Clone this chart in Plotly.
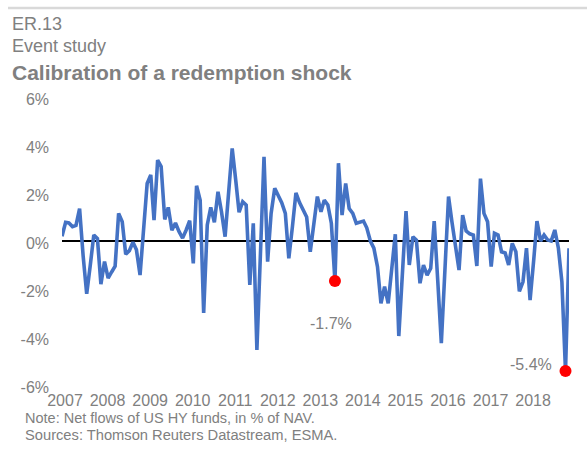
import pandas as pd
import plotly.graph_objects as go

# ---- data ----
net_flows = [
    0.2, 0.78, 0.75, 0.6, 0.65, 1.35, -0.6, -2.2, -1.0, 0.25, 0.1, -1.8,
    -0.86, -1.55, -1.3, -1.05, 1.15, 0.8, -0.55, -0.4, -0.05, -0.37, -1.42, 0.5,
    2.4, 2.75, 0.87, 3.37, 3.1, 0.9, 1.4, 0.45, 0.75, 0.4, 0.12, 0.45,
    0.85, -0.93, 2.3, 1.7, -3.0, 0.67, 1.4, 0.78, 2.05, 1.22, 0.18, 2.0,
    3.86, 2.5, 1.2, 1.64, 1.5, -1.83, 0.74, -4.54, -0.5, 3.51, -0.86, 1.15,
    2.2, 1.9, 1.6, 1.15, -0.72, 0.6, 2.0, 1.6, 1.3, 1.0, -0.45, 0.7,
    1.85, 1.22, 1.7, 1.5, 0.74, -1.67, 3.24, 1.08, 2.4, 1.35, 1.15, 0.74,
    0.8, 0.83, 0.55, 0.0, -0.3, -1.07, -2.6, -1.9, -2.6, -1.2, 0.28, -3.96,
    -1.4, 1.25, -1.0, 0.18, 0.04, -1.76, -1.0, -1.42, -1.14, 0.83, -1.7, -4.26,
    -1.2, 1.85, 0.8, -0.2, -1.21, 1.08, 0.42, 0.3, 0.25, -1.04, 2.6, 1.15,
    0.8, -1.07, 0.32, 0.25, -0.45, -0.5, -1.0, -0.1, -0.45, -2.1, -1.7, -0.3,
    -2.46, -0.8, 0.83, 0.0, 0.25, 0.04, 0.0, 0.46, -0.3, -1.7, -5.42, -0.3,
]
months = pd.date_range("2007-01-01", periods=len(net_flows), freq="MS")
shock_months = ["2013-06-01", "2018-11-01"]
shock_values = [-1.67, -5.42]
shock_labels = ["-1.7%", "-5.4%"]
year_labels = [str(y) for y in range(2007, 2019)]
year_ticks = [f"{y}-01-01" for y in range(2007, 2019)]
y_ticks = [-6, -4, -2, 0, 2, 4, 6]
y_labels = ["-6%", "-4%", "-2%", "0%", "2%", "4%", "6%"]

# ---- layout geometry (pixels) ----
W, H = 587, 450
L, R, T, B = 62, 18, 97, 65
PW, PH = W - L - R, H - T - B

def px(x):
    return (x - L) / PW

def py(y):
    return (H - B - y) / PH

GRAY = "#808080"
FONT = "Liberation Sans, Arial, sans-serif"

fig = go.Figure()
fig.add_trace(go.Scatter(
    x=months, y=net_flows, mode="lines",
    line=dict(color="#4472C4", width=3.6),
    hoverinfo="skip", showlegend=False,
))
fig.add_trace(go.Scatter(
    x=pd.to_datetime(shock_months), y=shock_values, mode="markers",
    marker=dict(color="#FF0000", size=12),
    hoverinfo="skip", showlegend=False, cliponaxis=False,
))

annotations = [
    dict(text="ER.13", x=px(10), y=py(24), size=18),
    dict(text="Event study", x=px(10), y=py(46), size=18),
    dict(text="<b>Calibration of a redemption shock</b>", x=px(10), y=py(72), size=21),
    dict(text="Note: Net flows of US HY funds, in % of NAV.", x=px(23), y=py(418), size=14.5),
    dict(text="Sources: Thomson Reuters Datastream, ESMA.", x=px(23), y=py(435), size=14.7),
]
ann = []
for a in annotations:
    ann.append(dict(
        text=a["text"], x=a["x"], y=a["y"], xref="paper", yref="paper",
        xanchor="left", yanchor="middle", showarrow=False,
        font=dict(family=FONT, size=a["size"], color=GRAY),
    ))

shifts = [(-4, -42), (-35, 7)]
for m, v, lab, (dx, dy) in zip(shock_months, shock_values, shock_labels, shifts):
    ann.append(dict(
        text=lab, x=m, y=v, xref="x", yref="y", showarrow=False,
        xshift=dx, yshift=dy, xanchor="center", yanchor="middle",
        font=dict(family=FONT, size=16, color=GRAY),
    ))

fig.update_layout(
    width=W, height=H,
    margin=dict(l=L, r=R, t=T, b=B, pad=0),
    paper_bgcolor="white", plot_bgcolor="white",
    font=dict(family=FONT, size=16, color=GRAY),
    annotations=ann,
    shapes=[dict(
        type="line", xref="paper", yref="paper",
        x0=px(8), x1=px(587), y0=py(8), y1=py(8),
        line=dict(color="#D9D9D9", width=2.5),
    )],
    xaxis=dict(
        range=["2007-01-01", "2018-12-01"],
        tickvals=year_ticks, ticktext=year_labels,
        showgrid=False, zeroline=False, showline=False, ticks="",
        tickfont=dict(family=FONT, size=16, color=GRAY),
        ticklabelshift=3, ticklabelstandoff=4,
    ),
    yaxis=dict(
        range=[-6, 6],
        tickvals=y_ticks, ticktext=y_labels,
        showgrid=False, showline=False, ticks="",
        zeroline=True, zerolinecolor="#000000", zerolinewidth=1.5,
        tickfont=dict(family=FONT, size=16, color=GRAY),
        ticklabelstandoff=12, ticklabelshift=2,
    ),
)

fig.write_html(
    "out.html",
    config={"displayModeBar": False},
    post_script="document.body.style.margin='0';document.body.style.overflow='hidden';",
)
